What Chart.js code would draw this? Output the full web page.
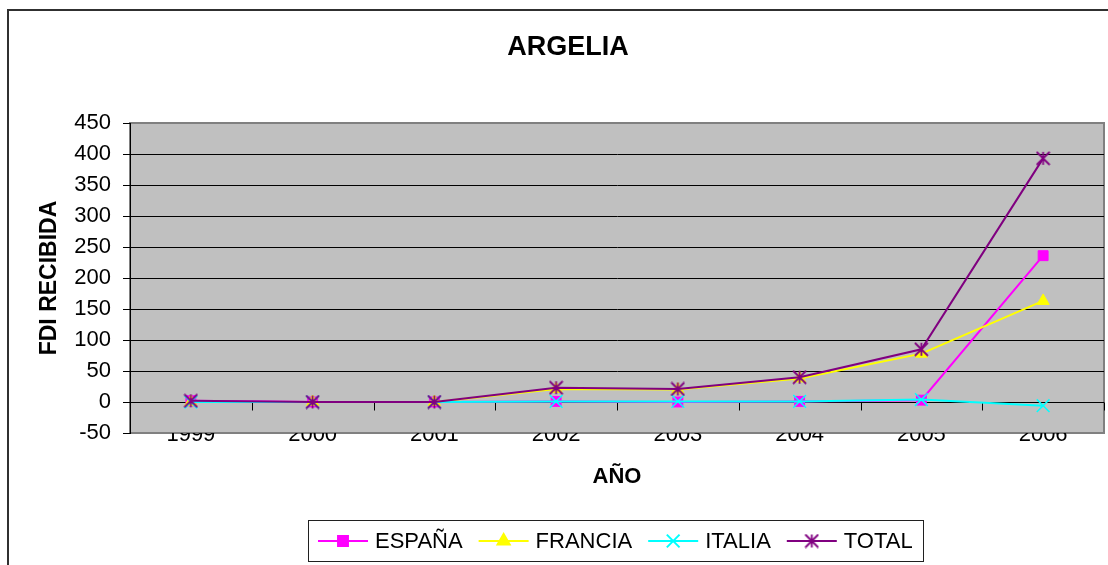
<!DOCTYPE html>
<html>
<head>
<meta charset="utf-8">
<script src="https://cdn.jsdelivr.net/npm/chart.js@4.4.1/dist/chart.umd.min.js"></script>
<style>
  html, body { margin: 0; padding: 0; background: #ffffff; }
  #c { display: block; }
</style>
</head>
<body>
<canvas id="c" width="1108" height="565"></canvas>
<script>
// FDI received by Algeria, by source country
const years   = ['1999', '2000', '2001', '2002', '2003', '2004', '2005', '2006'];
const espana  = [2, 0, 0, 1, 0, 1, 3, 236];
const francia = [0, 0, 0, 21, 20, 38, 78, 163];
const italia  = [0, 0, 0, 1, 1, 1, 4, -6];
const total   = [2, 0, 0, 23, 21, 40, 85, 393];

const chartTitle = 'ARGELIA';
const yTitle = 'FDI RECIBIDA';
const xTitle = 'AÑO';
const yMin = -50, yMax = 450, yStep = 50;

const FONT = '"Liberation Sans", Arial, Helvetica, sans-serif';
const PLOT_BG = '#c0c0c0';
const PLOT_EDGE = '#808080';

// Asterisk marker: vertical stroke plus an X
function asteriskMarker(color, size, lw) {
  const c = document.createElement('canvas');
  c.width = size; c.height = size;
  const g = c.getContext('2d');
  g.strokeStyle = color;
  g.lineWidth = lw;
  const m = size / 2, r = size / 2 - 1;
  g.beginPath();
  g.moveTo(m, m - r); g.lineTo(m, m + r);
  g.moveTo(m - r, m - r); g.lineTo(m + r, m + r);
  g.moveTo(m + r, m - r); g.lineTo(m - r, m + r);
  g.stroke();
  return c;
}

// Page frame, grey plot area and its edge
const framePlugin = {
  id: 'frame',
  beforeDraw(chart) {
    const { ctx, chartArea: a } = chart;
    ctx.save();
    ctx.fillStyle = '#ffffff';
    ctx.fillRect(0, 0, chart.width, chart.height);
    ctx.strokeStyle = '#303030';
    ctx.lineWidth = 2;
    ctx.strokeRect(8, 10, chart.width + 50, chart.height + 50);
    ctx.fillStyle = PLOT_BG;
    ctx.fillRect(a.left, a.top, a.right - a.left, a.bottom - a.top);
    ctx.strokeStyle = PLOT_EDGE;
    ctx.lineWidth = 2;
    ctx.strokeRect(a.left, a.top, a.right - a.left, a.bottom - a.top);
    ctx.restore();
  },
  // category tick marks hanging below the zero line
  beforeDatasetsDraw(chart) {
    const { ctx, scales: { x, y } } = chart;
    const y0 = Math.round(y.getPixelForValue(0)) + 0.5;
    ctx.save();
    ctx.strokeStyle = '#000000';
    ctx.lineWidth = 1;
    ctx.beginPath();
    const n = years.length;
    const step = x.getPixelForValue(1) - x.getPixelForValue(0);
    for (let i = 0; i <= n; i++) {
      const px = Math.round(x.getPixelForValue(0) - step / 2 + i * step) + 0.5;
      ctx.moveTo(px, y0);
      ctx.lineTo(px, y0 + 8);
    }
    ctx.stroke();
    ctx.restore();
  }
};

// Chart heading
const headingPlugin = {
  id: 'heading',
  afterDraw(chart) {
    const ctx = chart.ctx;
    ctx.save();
    ctx.font = 'bold 27px ' + FONT;
    ctx.fillStyle = '#000000';
    ctx.textAlign = 'center';
    ctx.textBaseline = 'middle';
    ctx.fillText(chartTitle, 568, 48);
    ctx.restore();
  }
};

// Series key: line sample with marker, then the label
const keyPlugin = {
  id: 'seriesKey',
  afterDraw(chart) {
    const { ctx, chartArea: a } = chart;
    const sets = chart.data.datasets;
    ctx.save();
    ctx.font = '22px ' + FONT;
    const lineLen = 50, textGap = 7, itemGap = 16, pad = 10;
    const widths = sets.map(d => ctx.measureText(d.label).width);
    const content = widths.reduce((s, w) => s + lineLen + textGap + w, 0) + itemGap * (sets.length - 1);
    const boxW = Math.round(content + pad * 2);
    const boxTop = 520, boxH = 41;
    const boxLeft = Math.round((a.left + a.right) / 2 - 2 - boxW / 2);
    ctx.fillStyle = '#ffffff';
    ctx.fillRect(boxLeft, boxTop, boxW, boxH);
    ctx.strokeStyle = '#202020';
    ctx.lineWidth = 1;
    ctx.strokeRect(boxLeft + 0.5, boxTop + 0.5, boxW, boxH);
    const cy = boxTop + boxH / 2 + 0.5;
    let x = boxLeft + pad;
    sets.forEach((d, i) => {
      ctx.strokeStyle = d.borderColor;
      ctx.lineWidth = 2;
      ctx.beginPath();
      ctx.moveTo(x, cy);
      ctx.lineTo(x + lineLen, cy);
      ctx.stroke();
      ctx.fillStyle = d.pointBackgroundColor;
      ctx.strokeStyle = d.pointBorderColor;
      Chart.helpers.drawPoint(ctx, {
        pointStyle: d.pointStyle,
        radius: d.pointRadius,
        rotation: 0,
        borderWidth: d.pointBorderWidth
      }, x + lineLen / 2, cy);
      ctx.fillStyle = '#000000';
      ctx.textAlign = 'left';
      ctx.textBaseline = 'middle';
      ctx.fillText(d.label, x + lineLen + textGap, cy + 1);
      x += lineLen + textGap + widths[i] + itemGap;
    });
    ctx.restore();
  }
};

function series(label, values, color, style, radius, borderW, order) {
  return {
    label,
    data: values,
    borderColor: color,
    backgroundColor: color,
    borderWidth: 2,
    tension: 0,
    pointStyle: style,
    pointRadius: radius,
    pointBackgroundColor: color,
    pointBorderColor: color,
    pointBorderWidth: borderW,
    order
  };
}

new Chart(document.getElementById('c'), {
  type: 'line',
  data: {
    labels: years,
    datasets: [
      series('ESPAÑA', espana, '#ff00ff', 'rect', 7, 1, 3),
      series('FRANCIA', francia, '#ffff00', 'triangle', 7, 1, 2),
      series('ITALIA', italia, '#00ffff', 'crossRot', 9, 1.5, 1),
      series('TOTAL', total, '#800080', asteriskMarker('#800080', 15, 1.8), 7, 1, 0)
    ]
  },
  options: {
    responsive: false,
    animation: false,
    devicePixelRatio: 1,
    layout: { autoPadding: false, padding: { top: 123, left: 0, right: 4, bottom: 0 } },
    plugins: {
      legend: { display: false },
      title: { display: false },
      tooltip: { enabled: false }
    },
    scales: {
      x: {
        type: 'category',
        offset: true,
        afterFit(scale) {
          scale.height = 132;
          scale.paddingLeft = 0;
          scale.paddingRight = 0;
        },
        grid: { display: false, drawTicks: false },
        border: { display: false },
        ticks: {
          color: '#000000',
          font: { family: FONT, size: 22 },
          padding: -11,
          maxRotation: 0,
          autoSkip: false
        },
        title: {
          display: true,
          text: xTitle,
          color: '#000000',
          font: { family: FONT, size: 22, weight: 'bold' },
          padding: { top: 0, bottom: 75 }
        }
      },
      y: {
        min: yMin,
        max: yMax,
        afterFit(scale) { scale.width = 130; },
        grid: {
          color: ctx => (ctx.tick && (ctx.tick.value === yMax || ctx.tick.value === yMin)) ? 'rgba(0,0,0,0)' : '#000000',
          tickColor: '#000000',
          lineWidth: 1,
          drawTicks: true,
          tickLength: 7
        },
        border: { display: true, color: '#000000', width: 1 },
        ticks: {
          stepSize: yStep,
          color: '#000000',
          font: { family: FONT, size: 22 },
          padding: 12
        },
        title: {
          display: true,
          text: yTitle,
          color: '#000000',
          font: { family: FONT, size: 23, weight: 'bold' },
          padding: { top: 36, bottom: 0 }
        }
      }
    }
  },
  plugins: [framePlugin, headingPlugin, keyPlugin]
});
</script>
</body>
</html>
